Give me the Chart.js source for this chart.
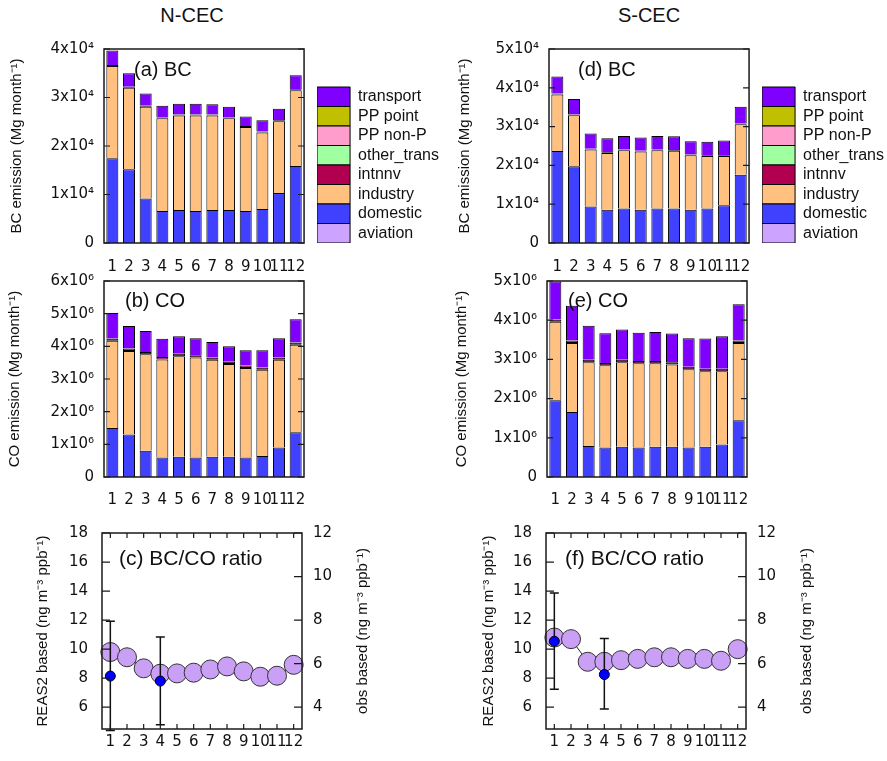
<!DOCTYPE html>
<html lang="en">
<head>
<meta charset="UTF-8" />
<title>BC and CO emission, N-CEC / S-CEC</title>
<script src="https://cdn.jsdelivr.net/npm/chart.js"></script>
<style>
  body { margin: 0; background: #fff; width: 887px; height: 761px; overflow: hidden; position: relative;
         font-family: "Liberation Sans", Arial, sans-serif; }
  .panel { position: absolute; }
  .head { position: absolute; top: 4px; width: 200px; text-align: center; font-size: 20px; color: #111; }
</style>
</head>
<body>
<div class="head" style="left:92px">N-CEC</div>
<div class="head" style="left:549px">S-CEC</div>

<div class="panel" style="left:0;top:30px;width:460px;height:252px"><canvas id="bcN"></canvas></div>
<div class="panel" style="left:445px;top:30px;width:460px;height:252px"><canvas id="bcS"></canvas></div>
<div class="panel" style="left:0;top:262px;width:320px;height:250px"><canvas id="coN"></canvas></div>
<div class="panel" style="left:445px;top:262px;width:318px;height:250px"><canvas id="coS"></canvas></div>
<div class="panel" style="left:0;top:510px;width:400px;height:251px"><canvas id="ratioN"></canvas></div>
<div class="panel" style="left:445px;top:510px;width:399px;height:251px"><canvas id="ratioS"></canvas></div>

<script>
const months = ['1', '2', '3', '4', '5', '6', '7', '8', '9', '10', '11', '12'];

// stacking order, bottom to top
const sectors = ['aviation', 'domestic', 'industry', 'intnnv', 'other_trans', 'PP non-P', 'PP point', 'transport'];
const sectorColors = ['#cca3ff', '#4040ff', '#ffc080', '#b0004f', '#a0ffa0', '#ff9ecc', '#c0c000', '#8000ff'];

// sectors that are too small to see in any month
const noEmission = [0, 0, 0, 0, 0, 0, 0, 0, 0, 0, 0, 0];

// N-CEC BC emission (Mg/month)
const bcNDomestic  = [17500, 15200, 9200, 6600, 6800, 6600, 6800, 6800, 6600, 7000, 10300, 15900];
const bcNIndustry  = [19000, 16800, 18900, 19100, 19500, 19700, 19500, 18900, 17300, 15800, 14800, 15600];
const bcNIntnnv    = [200, 200, 200, 200, 200, 200, 200, 200, 200, 200, 200, 200];
const bcNTransport = [3000, 2800, 2500, 2400, 2200, 2200, 2100, 2200, 2000, 2300, 2400, 2900];

// S-CEC BC emission (Mg/month)
const bcSDomestic  = [23700, 19800, 9400, 8600, 8900, 8600, 8900, 8900, 8600, 8900, 9700, 17600];
const bcSIndustry  = [14600, 13100, 14700, 14600, 15000, 15000, 15000, 14900, 14000, 13500, 12700, 13000];
const bcSIntnnv    = [200, 200, 200, 200, 200, 200, 200, 200, 200, 200, 200, 200];
const bcSTransport = [4400, 4000, 3900, 3600, 3500, 3400, 3500, 3500, 3400, 3500, 3800, 4300];

// N-CEC CO emission (Mg/month)
const coNDomestic  = [1500000, 1300000, 800000, 600000, 620000, 600000, 620000, 620000, 600000, 640000, 900000, 1370000];
const coNIndustry  = [2670000, 2560000, 2960000, 3000000, 3080000, 3060000, 2970000, 2840000, 2740000, 2640000, 2690000, 2680000];
const coNIntnnv    = [70000, 70000, 70000, 70000, 70000, 70000, 70000, 70000, 70000, 70000, 70000, 70000];
const coNTransport = [780000, 690000, 640000, 560000, 540000, 520000, 470000, 470000, 470000, 530000, 590000, 710000];

// S-CEC CO emission (Mg/month)
const coSDomestic  = [1960000, 1660000, 790000, 750000, 770000, 750000, 770000, 770000, 750000, 770000, 830000, 1450000];
const coSIndustry  = [2000000, 1760000, 2140000, 2100000, 2160000, 2150000, 2130000, 2100000, 2000000, 1930000, 1870000, 1970000];
const coSIntnnv    = [60000, 60000, 60000, 60000, 60000, 60000, 60000, 60000, 60000, 60000, 60000, 60000];
const coSTransport = [970000, 890000, 870000, 760000, 770000, 720000, 740000, 730000, 730000, 770000, 830000, 930000];

// BC/CO ratio, REAS2 based (left axis) and observed (right axis, with error range)
const ratioNReas  = [9.8, 9.44, 8.68, 8.31, 8.33, 8.38, 8.6, 8.81, 8.47, 8.1, 8.17, 8.92];
const ratioNObs   = [5.43, null, null, 5.2, null, null, null, null, null, null, null, null];
const ratioNObsLo = [2.93, null, null, 3.2, null, null, null, null, null, null, null, null];
const ratioNObsHi = [7.95, null, null, 7.22, null, null, null, null, null, null, null, null];

const ratioSReas  = [10.8, 10.69, 9.13, 9.13, 9.24, 9.33, 9.44, 9.44, 9.33, 9.33, 9.2, 10.0];
const ratioSObs   = [7.03, null, null, 5.5, null, null, null, null, null, null, null, null];
const ratioSObsLo = [4.83, null, null, 3.92, null, null, null, null, null, null, null, null];
const ratioSObsHi = [9.25, null, null, 7.15, null, null, null, null, null, null, null, null];

const tickFont = { family: 'DejaVu Sans', size: 15 };
const textFont = 'Liberation Sans';
const ink = '#111';
const supDigits = { '4': '\u2074', '6': '\u2076' };

// frame, inward tick marks, panel label and (optionally) a right-hand axis title
const panelFrame = {
  id: 'panelFrame',
  afterDatasetsDraw(chart, args, o) {
    const { ctx, chartArea: a } = chart;
    ctx.save();
    ctx.strokeStyle = '#1a1a1a';
    ctx.lineWidth = 1.2;
    ctx.beginPath();
    const left = chart.scales[o.leftScale];
    left.ticks.forEach(t => {
      const y = left.getPixelForValue(t.value);
      ctx.moveTo(a.left, y); ctx.lineTo(a.left + o.yTickLen, y);
    });
    const right = chart.scales[o.rightScale];
    right.ticks.forEach(t => {
      const y = right.getPixelForValue(t.value);
      ctx.moveTo(a.right, y); ctx.lineTo(a.right - o.yTickLen, y);
    });
    if (o.xTickLen) {
      const x = chart.scales.x;
      x.ticks.forEach((t, i) => {
        const px = x.getPixelForTick(i);
        ctx.moveTo(px, a.bottom); ctx.lineTo(px, a.bottom - o.xTickLen);
        ctx.moveTo(px, a.top); ctx.lineTo(px, a.top + o.xTickLen);
      });
    }
    ctx.stroke();
    ctx.lineWidth = 1.5;
    ctx.strokeRect(a.left, a.top, a.width, a.height);

    ctx.fillStyle = ink;
    ctx.font = `${o.labelSize}px "${textFont}"`;
    ctx.textBaseline = 'middle';
    ctx.textAlign = 'left';
    ctx.fillText(o.label, a.left + o.labelDx, a.top + o.labelDy);

    if (o.rightTitle) {
      ctx.translate(a.right + o.rightTitleDx, (a.top + a.bottom) / 2);
      ctx.rotate(-Math.PI / 2);
      ctx.textAlign = 'center';
      ctx.font = `15px "${textFont}"`;
      ctx.fillText(o.rightTitle, 0, 0);
    }
    ctx.restore();
  }
};

// vertical error bars for the observed ratio, drawn just before its dots
const obsErrorBars = {
  id: 'obsErrorBars',
  beforeDatasetDraw(chart, args, o) {
    if (args.index !== 0) return;
    const { ctx } = chart;
    const x = chart.scales.x, y2 = chart.scales.y2;
    ctx.save();
    ctx.strokeStyle = '#111';
    ctx.lineWidth = 1.5;
    ctx.beginPath();
    o.lo.forEach((lo, i) => {
      if (lo === null) return;
      const px = x.getPixelForTick(i);
      const yLo = y2.getPixelForValue(lo), yHi = y2.getPixelForValue(o.hi[i]);
      ctx.moveTo(px, yLo); ctx.lineTo(px, yHi);
      ctx.moveTo(px - 4.5, yLo); ctx.lineTo(px + 4.5, yLo);
      ctx.moveTo(px - 4.5, yHi); ctx.lineTo(px + 4.5, yHi);
    });
    ctx.stroke();
    ctx.restore();
  }
};

function powerTicks(exp) {
  const base = Math.pow(10, Number(exp));
  return v => v === 0 ? '0' : `${Math.round(v / base)}x10${supDigits[exp]}`;
}

function emissionChart(id, c) {
  const series = [noEmission, c.domestic, c.industry, c.intnnv, noEmission, noEmission, noEmission, c.transport];
  const scales = {
    x: {
      stacked: true,
      grid: { display: false, drawTicks: false },
      border: { display: false },
      ticks: { font: tickFont, color: ink, padding: c.xPad, autoSkip: false, maxRotation: 0 },
      afterFit: s => { s.height = c.xHeight; }
    },
    y: {
      stacked: true,
      min: 0,
      max: c.max,
      ticks: { stepSize: c.step, font: tickFont, color: ink, padding: 10, callback: powerTicks(c.exp) },
      grid: { display: false, drawTicks: false },
      border: { display: false },
      title: { display: true, text: c.title, color: ink, font: { family: textFont, size: 15 }, padding: { top: c.titlePad, bottom: 0 } },
      afterFit: s => { s.width = c.yWidth; }
    }
  };
  if (c.legend) {
    // empty spacer between the frame and the legend
    scales.gap = {
      type: 'linear', position: 'right', display: true,
      ticks: { display: false }, grid: { display: false, drawTicks: false }, border: { display: false },
      afterFit: s => { s.width = 13; }
    };
  }
  return new Chart(document.getElementById(id), {
    type: 'bar',
    data: {
      labels: months,
      datasets: sectors.map((name, i) => ({
        label: name,
        data: series[i],
        backgroundColor: sectorColors[i],
        borderColor: '#000',
        borderWidth: 1,
        borderSkipped: name === 'intnnv' ? false : 'start',
        barPercentage: 0.72,
        categoryPercentage: 1
      }))
    },
    options: {
      responsive: true,
      maintainAspectRatio: false,
      animation: false,
      layout: { padding: { top: c.padTop, right: c.padRight, left: 0, bottom: 0 } },
      scales,
      plugins: {
        legend: {
          display: !!c.legend,
          position: 'right',
          align: 'end',
          fullSize: false,
          reverse: true,
          maxWidth: 140,
          labels: { boxWidth: 33, boxHeight: 19.5, padding: 0, color: ink, font: { family: textFont, size: 16 } }
        },
        tooltip: { enabled: false },
        panelFrame: { leftScale: 'y', rightScale: 'y', yTickLen: 6, xTickLen: 0, label: c.label, labelSize: 20, labelDx: c.labelDx, labelDy: c.labelDy }
      }
    },
    plugins: [panelFrame]
  });
}

function ratioChart(id, c) {
  return new Chart(document.getElementById(id), {
    type: 'line',
    data: {
      labels: months,
      datasets: [
        { label: 'obs based', data: c.obs, yAxisID: 'y2', showLine: false, order: 0,
          pointRadius: 5, pointBackgroundColor: '#0000ff', pointBorderColor: '#000', pointBorderWidth: 1 },
        { label: 'REAS2 based', data: c.reas, yAxisID: 'y', order: 1, borderColor: '#222', borderWidth: 1,
          pointRadius: 9.5, pointBackgroundColor: '#c9a0f5', pointBorderColor: '#333', pointBorderWidth: 1 }
      ]
    },
    options: {
      responsive: true,
      maintainAspectRatio: false,
      animation: false,
      layout: { padding: { top: 19, right: 0, left: 0, bottom: 0 } },
      scales: {
        x: {
          offset: true,
          grid: { display: false, drawTicks: false },
          border: { display: false },
          ticks: { font: tickFont, color: ink, padding: 4, autoSkip: false, maxRotation: 0 },
          afterFit: s => { s.height = 32; }
        },
        y: {
          min: 4.5, max: 18,
          ticks: { stepSize: 2, includeBounds: false, font: tickFont, color: ink, padding: 14 },
          grid: { display: false, drawTicks: false },
          border: { display: false },
          title: { display: true, text: 'REAS2 based (ng m\u207B\u00B3 ppb\u207B\u00B9)', color: ink,
                   font: { family: textFont, size: 15 }, padding: { top: c.titlePad, bottom: 0 } },
          afterFit: s => { s.width = c.yWidth; }
        },
        y2: {
          position: 'right',
          min: 3, max: 12,
          ticks: { stepSize: 2, includeBounds: false, font: tickFont, color: ink, padding: 11 },
          grid: { display: false, drawTicks: false },
          border: { display: false },
          afterFit: s => { s.width = 98; }
        }
      },
      plugins: {
        legend: { display: false },
        tooltip: { enabled: false },
        obsErrorBars: { lo: c.obsLo, hi: c.obsHi },
        panelFrame: { leftScale: 'y', rightScale: 'y2', yTickLen: 8, xTickLen: 5, label: c.label, labelSize: 21,
                      labelDx: c.labelDx, labelDy: 26, rightTitle: 'obs based (ng m\u207B\u00B3 ppb\u207B\u00B9)', rightTitleDx: 61 }
      }
    },
    plugins: [obsErrorBars, panelFrame]
  });
}

const bcTitle = 'BC emission (Mg month\u207B\u00B9)';
const coTitle = 'CO emission (Mg month\u207B\u00B9)';

emissionChart('bcN', { domestic: bcNDomestic, industry: bcNIndustry, intnnv: bcNIntnnv, transport: bcNTransport,
  max: 40000, step: 10000, exp: '4', title: bcTitle, titlePad: 8, yWidth: 104, xHeight: 39, xPad: 15,
  padTop: 14, padRight: 11, legend: true, label: '(a) BC', labelDx: 30, labelDy: 21 });
emissionChart('bcS', { domestic: bcSDomestic, industry: bcSIndustry, intnnv: bcSIntnnv, transport: bcSTransport,
  max: 50000, step: 10000, exp: '4', title: bcTitle, titlePad: 11, yWidth: 104, xHeight: 39, xPad: 15,
  padTop: 14, padRight: 11, legend: true, label: '(d) BC', labelDx: 29, labelDy: 21 });
emissionChart('coN', { domestic: coNDomestic, industry: coNIndustry, intnnv: coNIntnnv, transport: coNTransport,
  max: 6000000, step: 1000000, exp: '6', title: coTitle, titlePad: 6, yWidth: 104, xHeight: 35, xPad: 14,
  padTop: 16, padRight: 16, legend: false, label: '(b) CO', labelDx: 21, labelDy: 20 });
emissionChart('coS', { domestic: coSDomestic, industry: coSIndustry, intnnv: coSIntnnv, transport: coSTransport,
  max: 5000000, step: 1000000, exp: '6', title: coTitle, titlePad: 8, yWidth: 102, xHeight: 35, xPad: 14,
  padTop: 16, padRight: 16, legend: false, label: '(e) CO', labelDx: 21, labelDy: 20 });

ratioChart('ratioN', { reas: ratioNReas, obs: ratioNObs, obsLo: ratioNObsLo, obsHi: ratioNObsHi,
  yWidth: 102, titlePad: 34, label: '(c) BC/CO ratio', labelDx: 17 });
ratioChart('ratioS', { reas: ratioSReas, obs: ratioSObs, obsLo: ratioSObsLo, obsHi: ratioSObsHi,
  yWidth: 101, titlePad: 35, label: '(f) BC/CO ratio', labelDx: 19 });
</script>
</body>
</html>
